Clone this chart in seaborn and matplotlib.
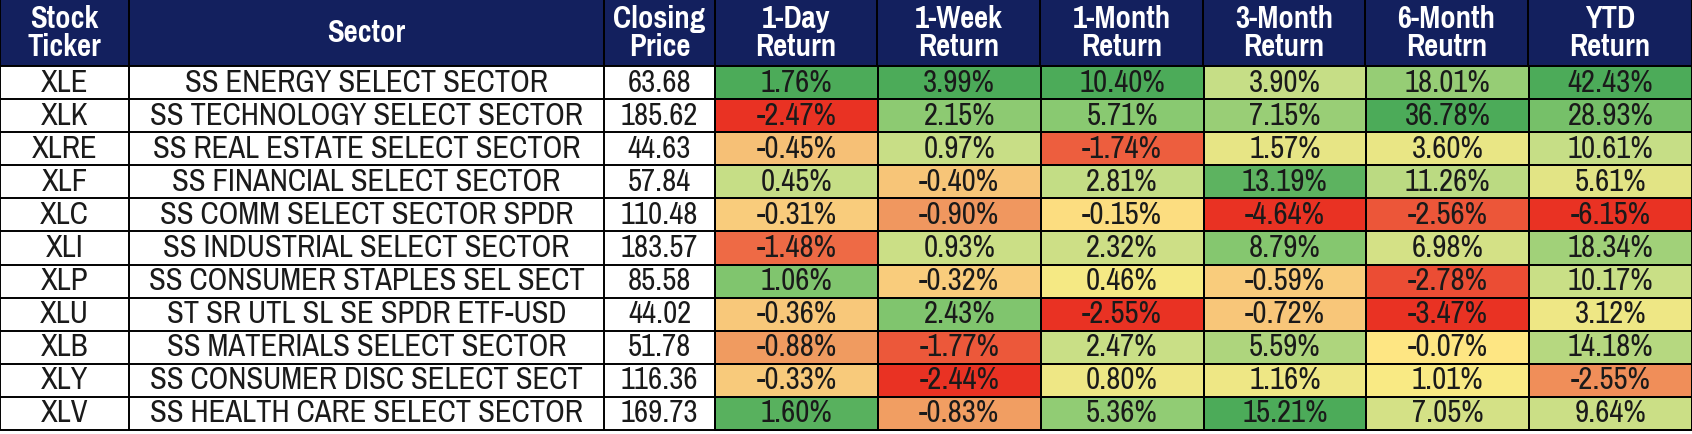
import numpy as np
import pandas as pd
import seaborn as sns
import matplotlib.pyplot as plt
import matplotlib.font_manager as fm
from matplotlib.colors import LinearSegmentedColormap

# ---------------- data ----------------
headers = ["Stock\nTicker", "Sector", "Closing\nPrice", "1-Day\nReturn", "1-Week\nReturn",
           "1-Month\nReturn", "3-Month\nReturn", "6-Month\nReutrn", "YTD\nReturn"]
tickers = ["XLE", "XLK", "XLRE", "XLF", "XLC", "XLI", "XLP", "XLU", "XLB", "XLY", "XLV"]
sectors = ["SS ENERGY SELECT SECTOR", "SS TECHNOLOGY SELECT SECTOR", "SS REAL ESTATE SELECT SECTOR",
           "SS FINANCIAL SELECT SECTOR", "SS COMM SELECT SECTOR SPDR", "SS INDUSTRIAL SELECT SECTOR",
           "SS CONSUMER STAPLES SEL SECT", "ST SR UTL SL SE SPDR ETF-USD", "SS MATERIALS SELECT SECTOR",
           "SS CONSUMER DISC SELECT SECT", "SS HEALTH CARE SELECT SECTOR"]
closing = [63.68, 185.62, 44.63, 57.84, 110.48, 183.57, 85.58, 44.02, 51.78, 116.36, 169.73]
ret_1d = [1.76, -2.47, -0.45, 0.45, -0.31, -1.48, 1.06, -0.36, -0.88, -0.33, 1.60]
ret_1w = [3.99, 2.15, 0.97, -0.40, -0.90, 0.93, -0.32, 2.43, -1.77, -2.44, -0.83]
ret_1m = [10.40, 5.71, -1.74, 2.81, -0.15, 2.32, 0.46, -2.55, 2.47, 0.80, 5.36]
ret_3m = [3.90, 7.15, 1.57, 13.19, -4.64, 8.79, -0.59, -0.72, 5.59, 1.16, 15.21]
ret_6m = [18.01, 36.78, 3.60, 11.26, -2.56, 6.98, -2.78, -3.47, -0.07, 1.01, 7.05]
ret_ytd = [42.43, 28.93, 10.61, 5.61, -6.15, 18.34, 10.17, 3.12, 14.18, -2.55, 9.64]

returns = pd.DataFrame({h: v for h, v in zip(headers[3:], [ret_1d, ret_1w, ret_1m, ret_3m, ret_6m, ret_ytd])},
                       index=tickers)

# ---------------- style ----------------
W, H = 1692, 434
sns.set_theme(style="white")


def _w(w):
    return w if isinstance(w, int) else fm.weight_dict.get(w, 400)


weights = {}
for f in fm.fontManager.ttflist:
    if f.style == "normal":
        weights.setdefault(f.name, set()).add(_w(f.weight))
fam = "Liberation Sans"
for cand in ["Arial Narrow", "Liberation Sans Narrow", "Pragati Narrow", "Roboto Condensed",
             "PT Sans Narrow", "Asap Condensed"]:
    ws = weights.get(cand, set())
    if 400 in ws and 700 in ws:
        fam = cand
        break
plt.rcParams["font.family"] = [fam, "DejaVu Sans"]
fs = 17.5 if fam == "Liberation Sans" else 24
fs_h = 17.5 if fam == "Liberation Sans" else 24

navy = "#13205E"
txt = "#1A1A1A"
cmap = LinearSegmentedColormap.from_list(
    "ryg",
    [(0.0, "#E93223"), (0.2, "#EE6A45"), (0.32, "#F09A60"), (0.43, "#F8C97B"), (0.5, "#FFEB84"),
     (0.625, "#C7DE86"), (0.79, "#84C76F"), (1.0, "#4CAB59")])

col_edges = [0, 129, 604, 715, 877, 1040, 1203, 1365, 1528, 1692]
hdr_h = 66
tbl_bottom = 430
lw = 1.4

fig = plt.figure(figsize=(W / 100, H / 100), dpi=100)


def px_rect(x0, y0, x1, y1):
    return [x0 / W, 1 - y1 / H, (x1 - x0) / W, (y1 - y0) / H]


# ---------------- header ----------------
ax_h = fig.add_axes(px_rect(0, 0, W, hdr_h))
ax_h.set_facecolor(navy)
ax_h.set_xlim(0, W)
ax_h.set_ylim(hdr_h, 0)
ax_h.set_xticks([])
ax_h.set_yticks([])
for s in ax_h.spines.values():
    s.set_visible(False)
for i, h in enumerate(headers):
    x0, x1 = col_edges[i], col_edges[i + 1]
    ax_h.text((x0 + x1) / 2, hdr_h / 2, h, ha="center", va="center", color="white",
              fontsize=fs_h, fontweight="bold", linespacing=1.0)
ax_h.vlines(col_edges, 0, hdr_h, color="black", lw=lw, clip_on=False)
ax_h.hlines([hdr_h], 0, W, color="black", lw=lw, clip_on=False)

# ---------------- left body (ticker, sector, price) ----------------
n = len(tickers)
ax_l = fig.add_axes(px_rect(0, hdr_h, col_edges[3], tbl_bottom))
ax_l.set_xlim(0, col_edges[3])
ax_l.set_ylim(n, 0)
ax_l.set_xticks([])
ax_l.set_yticks([])
for s in ax_l.spines.values():
    s.set_visible(False)
left_cols = [tickers, sectors, [f"{v:.2f}" for v in closing]]
for c, vals in enumerate(left_cols):
    xm = (col_edges[c] + col_edges[c + 1]) / 2
    for r, v in enumerate(vals):
        ax_l.text(xm, r + 0.5, v, ha="center", va="center", color=txt, fontsize=fs)
ax_l.hlines(range(n + 1), 0, col_edges[3], color="black", lw=lw, clip_on=False)
ax_l.vlines(col_edges[:4], 0, n, color="black", lw=lw, clip_on=False)

# ---------------- returns heatmap ----------------
# each column has its own scale: min -> red, 0 -> yellow, max -> green
scaled = returns.apply(lambda s: s.where(s >= 0, s / abs(s.min())).where(s < 0, s / s.max()))
labels = returns.apply(lambda s: s.map(lambda v: f"{v:.2f}%"))
ax_r = fig.add_axes(px_rect(col_edges[3], hdr_h, W, tbl_bottom))
sns.heatmap(scaled, ax=ax_r, cmap=cmap, vmin=-1, vmax=1, annot=labels, fmt="", cbar=False,
            linewidths=1.1, linecolor="black", annot_kws=dict(color=txt, fontsize=fs))
ax_r.collections[0].set_clip_on(False)
ax_r.set_xticks([])
ax_r.set_yticks([])
ax_r.set_xlabel("")
ax_r.set_ylabel("")

fig.savefig("out.png", dpi=100)
